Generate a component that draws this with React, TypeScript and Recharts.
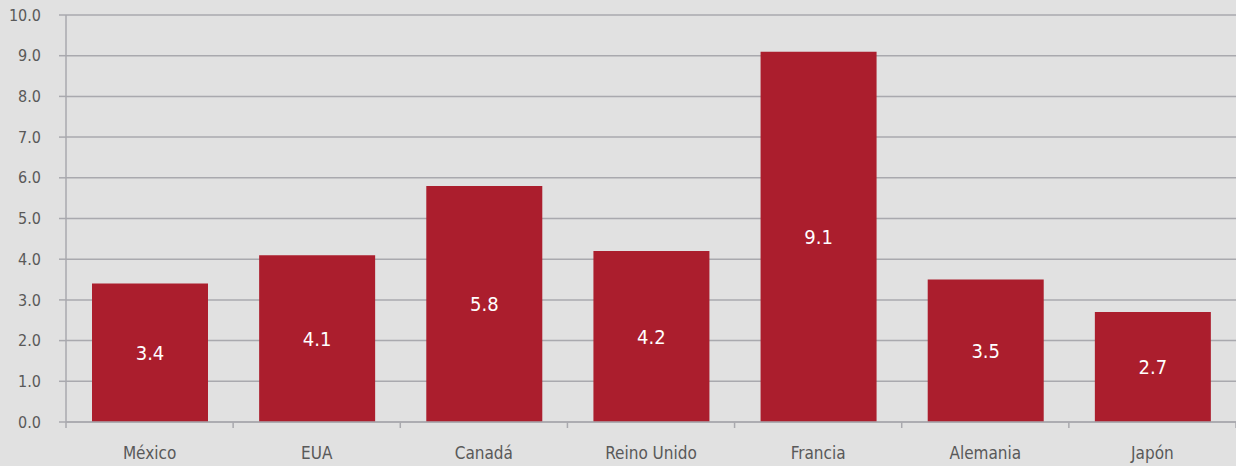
import React from "react";
import { BarChart, Bar, XAxis, YAxis, CartesianGrid, LabelList } from "recharts";

const categories = ["México", "EUA", "Canadá", "Reino Unido", "Francia", "Alemania", "Japón"];
const values = [3.4, 4.1, 5.8, 4.2, 9.1, 3.5, 2.7];
const yTicks = [0, 1, 2, 3, 4, 5, 6, 7, 8, 9, 10];

const data = categories.map((name, i) => ({ name, value: values[i] }));

const FONT = "'Liberation Sans Narrow', 'DejaVu Sans Condensed', 'Arial Narrow', sans-serif";
const GRID = "#a9a9ae";
const TICK_GAP = 25;
const TICK_LEN = 6;

function CatTick(props: any) {
  const { x, y, payload, index } = props;
  const half = (payload && payload.offset) || 0;
  const axisY = y - TICK_GAP;
  return (
    <g>
      {index === 0 && (
        <line x1={x - half} x2={x - half} y1={axisY} y2={axisY + TICK_LEN} stroke={GRID} strokeWidth={1.5} />
      )}
      <line x1={x + half} x2={x + half} y1={axisY} y2={axisY + TICK_LEN} stroke={GRID} strokeWidth={1.5} />
      <text x={x} y={y} dy="0.71em" textAnchor="middle" fill="#595959" fontSize={17} fontFamily={FONT}>
        {payload.value}
      </text>
    </g>
  );
}

export default function App() {
  return (
    <div style={{ position: "absolute", left: 0, top: 0, width: 1236, height: 466, background: "#e1e1e1", fontFamily: FONT }}>
      <BarChart width={1236} height={466} data={data} margin={{ top: 15, right: 0, bottom: 0, left: 0 }} barSize={116}>
        <CartesianGrid vertical={false} stroke={GRID} strokeWidth={1.5} />
        <XAxis
          dataKey="name"
          height={44}
          tickSize={0}
          tickMargin={TICK_GAP}
          axisLine={{ stroke: GRID, strokeWidth: 1.5 }}
          tickLine={false}
          tick={<CatTick />}
          interval={0}
        />
        <YAxis
          width={66}
          domain={[0, 10]}
          ticks={yTicks}
          tickSize={7}
          tickMargin={18}
          tickFormatter={(v: number) => v.toFixed(1)}
          axisLine={{ stroke: GRID, strokeWidth: 1.5 }}
          tickLine={{ stroke: GRID, strokeWidth: 1.5 }}
          tick={{ fill: "#595959", fontSize: 16, fontFamily: FONT }}
          interval={0}
        />
        <Bar dataKey="value" fill="#ab1e2d" isAnimationActive={false}>
          <LabelList dataKey="value" position="center" fill="#ffffff" fontSize={20} fontFamily={FONT} formatter={(v: number) => v.toFixed(1)} />
        </Bar>
      </BarChart>
    </div>
  );
}
